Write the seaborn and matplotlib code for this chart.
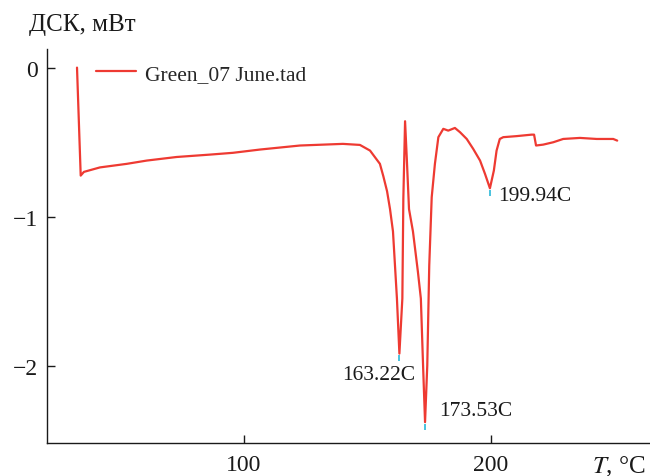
import matplotlib
matplotlib.use("Agg")
import matplotlib.pyplot as plt
import seaborn as sns
import pandas as pd

# Data
temperature_c = [32.3, 33.8, 35.1, 41.6, 52.5, 60.6, 72.7, 86.2, 95.5, 106.5,
                 122.7, 140.1, 147.0, 151.1, 155.1, 156.5, 158.0, 159.2, 160.4, 162.0,
                 163.0, 164.2, 164.6, 165.3, 166.0, 166.9, 168.5, 170.5, 171.7, 172.6,
                 173.4, 174.3, 175.1, 176.1, 177.4, 178.8, 180.8, 182.8, 185.5, 187.6,
                 190.3, 192.9, 195.7, 197.7, 199.7, 201.3, 202.4, 203.7, 205.1, 210.5,
                 216.6, 217.6, 218.4, 221.3, 225.4, 229.4, 236.2, 243.0, 249.7, 251.3]
dsc_mw = [0.00, -0.725, -0.70, -0.67, -0.646, -0.624, -0.60, -0.584, -0.572, -0.55,
          -0.523, -0.512, -0.519, -0.557, -0.646, -0.73, -0.83, -0.95, -1.10, -1.55,
          -1.92, -1.55, -0.88, -0.36, -0.61, -0.95, -1.10, -1.37, -1.55, -2.00,
          -2.38, -2.00, -1.33, -0.87, -0.646, -0.467, -0.411, -0.423, -0.405, -0.434,
          -0.479, -0.545, -0.624, -0.713, -0.81, -0.691, -0.557, -0.479, -0.467, -0.460,
          -0.450, -0.450, -0.523, -0.517, -0.501, -0.479, -0.472, -0.479, -0.479, -0.49]

peak_t = [163.0, 173.4, 199.7]
peak_v = [-1.92, -2.38, -0.81]
peak_labels = ["163.22C", "173.53C", "199.94C"]
label_t = [154.7, 194.0, 203.0]
label_v = [-2.06, -2.30, -0.86]
label_ha = ["center", "center", "left"]

x_ticks = [100, 200]
y_ticks = [0, -1, -2]
y_ticklabels = ["0", "\u22121", "\u22122"]
series_name = "Green_07 June.tad"

sns.set_style("ticks")
plt.rcParams["font.family"] = ["Liberation Serif", "DejaVu Serif"]
plt.rcParams["mathtext.fontset"] = "stix"

df = pd.DataFrame({"T": temperature_c, "DSC": dsc_mw})

fig = plt.figure(figsize=(6.5, 4.77), dpi=100)
ax = fig.add_axes([0.0718, 0.0692, 0.9282, 0.826])
color = "#ee3a32"
sns.lineplot(data=df, x="T", y="DSC", ax=ax, color=color, linewidth=1.6,
             sort=False, estimator=None, label=series_name)

# cyan markers at minima
ax.plot(peak_t, [v - 0.03 for v in peak_v], linestyle="none", marker="|",
        color="#2ab7d8", markersize=5, markeredgewidth=1.2)

for t, v, s, ha in zip(label_t, label_v, peak_labels, label_ha):
    ax.text(t, v, s, ha=ha, va="center", fontsize=15.5, color="#1a1a1a")

ax.set_xlim(20, 264.6)
ax.set_ylim(-2.52, 0.125)
ax.set_xticks(x_ticks)
ax.set_yticks(y_ticks)
ax.set_yticklabels(y_ticklabels)
ax.tick_params(direction="in", length=6, width=1, labelsize=17, colors="#1a1a1a")
ax.tick_params(axis="x", pad=8)
ax.tick_params(axis="y", pad=6)
ax.set_xlabel("")
ax.set_ylabel("")
sns.despine(ax=ax)
for sp in ["left", "bottom"]:
    ax.spines[sp].set_linewidth(1.0)
    ax.spines[sp].set_color("#1a1a1a")

leg = ax.legend(loc="upper left", bbox_to_anchor=(0.05, 1.012), frameon=False,
                fontsize=15.5, handlelength=1.85, handletextpad=0.42)

fig.text(29 / 650, 1 - 31 / 477, "ДСК, мВт", fontsize=18, va="baseline", ha="left",
         color="#1a1a1a")
fig.text(646 / 650, 1 - 473 / 477, "$T$, °C", fontsize=18, va="baseline", ha="right",
         color="#1a1a1a")

fig.savefig("out.png", dpi=100)
